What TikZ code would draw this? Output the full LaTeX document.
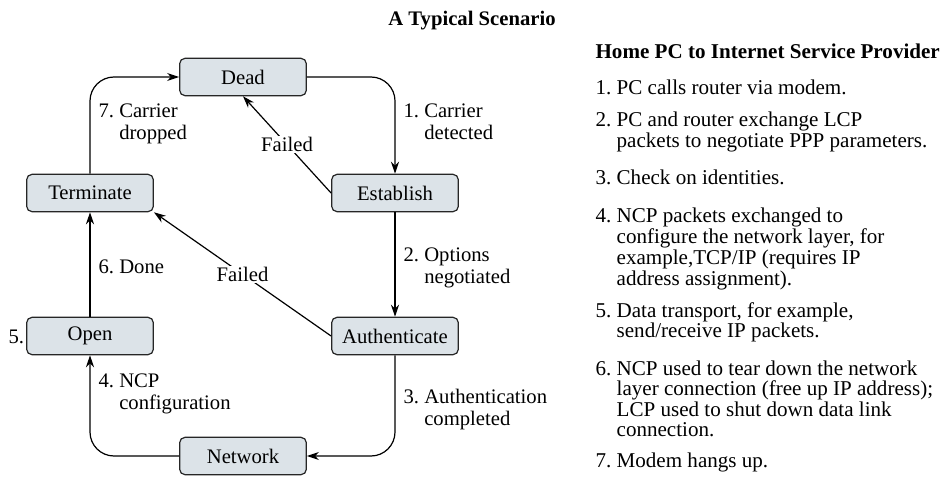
\documentclass[tikz,border=0pt]{standalone}
\usepackage{fontspec}
\setmainfont{Liberation Serif}
\usetikzlibrary{arrows.meta}
\definecolor{boxfill}{HTML}{DCE3E8}
\newcommand{\numitem}[2]{#1~\begin{tabular}[t]{@{}l@{}}#2\end{tabular}}
\begin{document}
\begin{tikzpicture}[x = 0.75pt, y = -0.75pt, line width = 0.9pt,
  font = \fontsize{15.5}{16.5}\selectfont,
  >={Stealth[length = 9pt, width = 6pt]},
  state/.style = {draw = black!85, fill = boxfill, rounded corners = 4pt,
    minimum width = 95pt, minimum height = 28pt, inner sep = 0pt},
  lbl/.style = {anchor = base west, inner sep = 0pt},
  listitem/.style = {anchor = base west, inner sep = 0pt,
    font = \fontsize{15.8}{15}\selectfont}]
\useasboundingbox (0,0) rectangle (946,481);
\node[anchor = base, font = \fontsize{15.5}{16.5}\selectfont\bfseries] (title) at (472,26) {A Typical Scenario};
% states
\node[state] at (243,77) (dead) {Dead};
\node[state] at (90,193) (term) {Terminate};
\node[state] at (395,193) (est) {Establish};
\node[state] at (90,336) (open) {Open};
\node[state] at (395,336) (auth) {Authenticate};
\node[state] at (243,456) (net) {Network};
% transitions
\draw[->, rounded corners = 18pt] (dead.east) -| (est.north);
\draw[->] (est.south) -- (auth.north);
\draw[->, rounded corners = 18pt] (auth.south) |- (net.east);
\draw[->, rounded corners = 18pt] (net.west) -| (open.south);
\draw[->] (open.north) -- (term.south);
\draw[->, rounded corners = 18pt] (term.north) |- (dead.west);
\draw[->] (est.west) -- node[fill = white, inner sep = 1pt] (fail1) {Failed} (dead.south);
\draw[->] (auth.west) -- node[fill = white, inner sep = 1pt] (fail2) {Failed} (term.south east);
% labels
\node[lbl] at (403,118) (l1) {\numitem{1.}{Carrier\\detected}};
\node[lbl] at (403,262) (l2) {\numitem{2.}{Options\\negotiated}};
\node[lbl] at (403,403) (l3) {\numitem{3.}{Authentication\\completed}};
\node[lbl] at (98,387) (l4) {\numitem{4.}{NCP\\configuration}};
\node[lbl] at (8,343) (l5) {5.};
\node[lbl] at (98,273) (l6) {6.~Done};
\node[lbl] at (98,118) (l7) {\numitem{7.}{Carrier\\dropped}};
% scenario list
\node[listitem, font = \fontsize{15.8}{15}\selectfont\bfseries] at (595,59) (head) {Home PC to Internet Service Provider};
\node[listitem] at (595,95) (s1) {\numitem{1.}{PC calls router via modem.}};
\node[listitem] at (595,127) (s2) {\numitem{2.}{PC and router exchange LCP\\packets to negotiate PPP parameters.}};
\node[listitem] at (595,185) (s3) {\numitem{3.}{Check on identities.}};
\node[listitem] at (595,223) (s4) {\numitem{4.}{NCP packets exchanged to\\configure the network layer, for\\example,TCP/IP (requires IP\\address assignment).}};
\node[listitem] at (595,317) (s5) {\numitem{5.}{Data transport, for example,\\send/receive IP packets.}};
\node[listitem] at (595,375) (s6) {\numitem{6.}{NCP used to tear down the network\\layer connection (free up IP address);\\LCP used to shut down data link\\connection.}};
\node[listitem] at (595,467) (s7) {\numitem{7.}{Modem hangs up.}};
\end{tikzpicture}
\end{document}
